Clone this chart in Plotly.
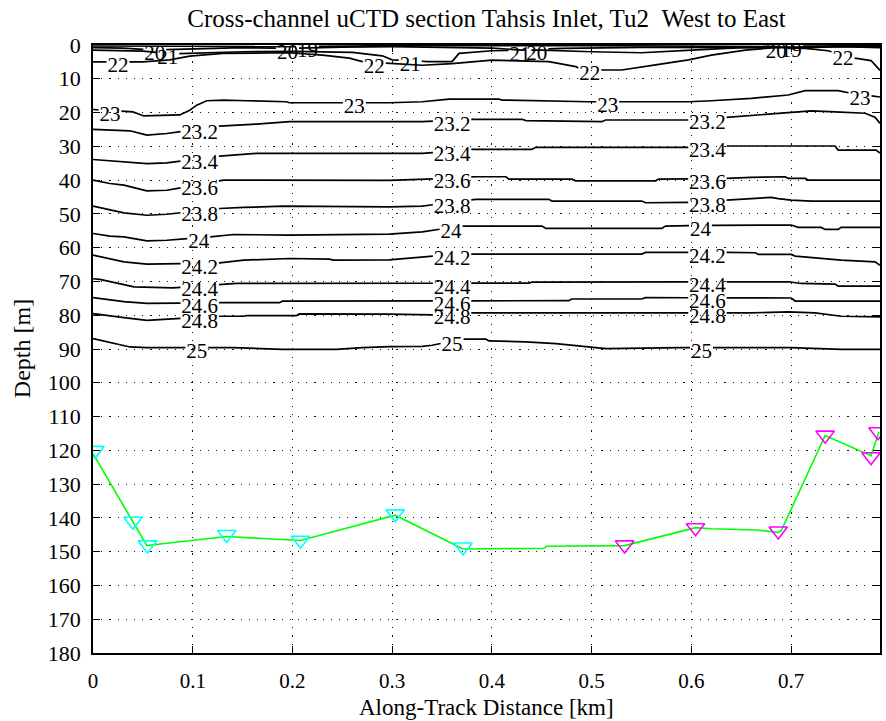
import numpy as np
import plotly.graph_objects as go

# ---- isopycnal depths (sigma-t contours), depth in m vs along-track km ----
x_190 = [0.000, 0.100, 0.200, 0.250, 0.300, 0.500, 0.600, 0.680, 0.720, 0.789]
z_190 = [0.3, 0.4, 0.5, 0.3, 0.2, 0.2, 0.3, 0.5, 0.3, 0.2]

x_200 = [0.000, 0.030, 0.060, 0.100, 0.150, 0.200, 0.250, 0.300, 0.400, 0.430, 0.470, 0.550, 0.650, 0.700, 0.750, 0.789]
z_200 = [0.8, 0.9, 1.5, 1.2, 0.8, 1.0, 0.6, 0.5, 0.9, 1.5, 1.0, 0.7, 0.6, 1.0, 0.4, 0.5]

x_210 = [0.000, 0.050, 0.080, 0.150, 0.200, 0.260, 0.290, 0.300, 0.336, 0.360, 0.364, 0.367, 0.400, 0.450, 0.500, 0.550, 0.600, 0.650, 0.700, 0.750, 0.789]
z_210 = [1.5, 1.8, 2.6, 2.0, 1.9, 2.2, 3.2, 4.4, 4.9, 4.9, 3.5, 2.5, 1.7, 1.5, 2.0, 2.3, 1.5, 0.8, 0.6, 0.5, 0.8]

x_220 = [0.000, 0.050, 0.077, 0.097, 0.130, 0.197, 0.230, 0.257, 0.270, 0.300, 0.330, 0.360, 0.400, 0.457, 0.484, 0.490, 0.530, 0.564, 0.597, 0.620, 0.654, 0.687, 0.714, 0.737, 0.764, 0.780, 0.789]
z_220 = [5.0, 5.0, 4.4, 3.3, 2.5, 2.3, 3.0, 3.9, 4.9, 5.5, 6.0, 5.5, 4.5, 4.9, 6.4, 7.4, 7.4, 5.9, 4.4, 3.0, 1.5, 0.7, 1.0, 1.7, 3.9, 4.6, 7.5]

x_230 = [0.000, 0.040, 0.051, 0.087, 0.097, 0.104, 0.114, 0.131, 0.154, 0.194, 0.197, 0.297, 0.330, 0.357, 0.407, 0.410, 0.497, 0.597, 0.620, 0.660, 0.697, 0.714, 0.747, 0.760, 0.789]
z_230 = [19.1, 19.8, 21.0, 20.7, 19.3, 17.8, 16.5, 16.3, 16.5, 16.8, 17.1, 17.1, 16.8, 16.0, 16.0, 16.3, 16.8, 16.8, 16.5, 15.8, 14.8, 13.5, 13.5, 14.3, 15.4]

x_232 = [0.000, 0.037, 0.054, 0.074, 0.127, 0.164, 0.197, 0.330, 0.382, 0.430, 0.434, 0.510, 0.514, 0.600, 0.637, 0.660, 0.697, 0.720, 0.744, 0.774, 0.784, 0.789]
z_232 = [25.0, 25.4, 26.7, 26.2, 24.0, 23.4, 22.7, 22.7, 22.0, 22.0, 22.4, 22.7, 22.2, 22.2, 21.4, 21.0, 20.2, 19.5, 19.8, 20.2, 21.4, 23.2]

x_234 = [0.000, 0.017, 0.054, 0.074, 0.127, 0.164, 0.330, 0.380, 0.440, 0.444, 0.600, 0.637, 0.744, 0.747, 0.785, 0.789]
z_234 = [33.9, 34.3, 35.1, 34.9, 32.9, 32.1, 32.1, 30.9, 30.9, 30.3, 30.3, 29.9, 29.9, 31.1, 31.1, 32.0]

x_236 = [0.000, 0.017, 0.031, 0.054, 0.074, 0.131, 0.297, 0.330, 0.384, 0.414, 0.417, 0.480, 0.484, 0.564, 0.567, 0.637, 0.660, 0.694, 0.697, 0.714, 0.717, 0.789]
z_236 = [40.0, 41.0, 41.5, 43.2, 43.0, 40.0, 40.1, 39.8, 39.0, 39.0, 39.7, 39.7, 40.2, 40.2, 39.7, 39.5, 39.2, 39.0, 39.5, 39.5, 40.0, 40.0]

x_238 = [0.000, 0.017, 0.031, 0.054, 0.074, 0.127, 0.151, 0.191, 0.297, 0.330, 0.384, 0.457, 0.460, 0.550, 0.554, 0.600, 0.637, 0.654, 0.680, 0.687, 0.700, 0.720, 0.789]
z_238 = [47.7, 48.9, 49.7, 50.4, 50.1, 48.4, 48.1, 47.7, 47.9, 47.7, 45.7, 45.7, 46.2, 46.2, 46.7, 46.6, 45.9, 45.7, 45.1, 45.5, 45.9, 46.2, 46.2]

x_240 = [0.000, 0.017, 0.031, 0.054, 0.074, 0.117, 0.141, 0.197, 0.297, 0.330, 0.370, 0.450, 0.454, 0.570, 0.574, 0.620, 0.700, 0.707, 0.730, 0.734, 0.747, 0.750, 0.789]
z_240 = [55.8, 56.6, 56.8, 58.0, 57.8, 56.8, 56.1, 56.3, 56.0, 55.3, 53.6, 53.6, 54.3, 54.3, 53.6, 53.4, 53.3, 54.0, 54.0, 54.6, 54.6, 54.0, 54.0]

x_242 = [0.000, 0.031, 0.054, 0.087, 0.127, 0.151, 0.197, 0.237, 0.241, 0.297, 0.330, 0.380, 0.550, 0.554, 0.637, 0.664, 0.667, 0.700, 0.704, 0.727, 0.750, 0.784, 0.789]
z_242 = [62.2, 64.2, 64.9, 64.7, 64.5, 63.7, 63.2, 63.4, 63.7, 63.6, 62.7, 61.9, 61.9, 61.4, 61.4, 61.5, 62.0, 62.0, 62.5, 63.2, 63.7, 64.2, 65.2]

x_244 = [0.000, 0.007, 0.041, 0.080, 0.127, 0.144, 0.437, 0.440, 0.697, 0.710, 0.744, 0.747, 0.789]
z_244 = [69.2, 69.4, 71.6, 71.9, 70.9, 70.6, 70.5, 70.2, 70.1, 70.6, 70.8, 71.4, 71.4]

x_246 = [0.000, 0.014, 0.031, 0.054, 0.127, 0.187, 0.190, 0.477, 0.480, 0.550, 0.554, 0.700, 0.704, 0.789]
z_246 = [74.8, 75.3, 76.0, 76.5, 76.3, 76.3, 75.8, 75.7, 75.2, 75.2, 74.8, 74.9, 75.8, 75.8]

x_248 = [0.000, 0.011, 0.031, 0.054, 0.127, 0.151, 0.154, 0.204, 0.207, 0.297, 0.340, 0.380, 0.590, 0.660, 0.697, 0.724, 0.750, 0.789]
z_248 = [79.5, 80.0, 80.7, 81.5, 80.3, 80.3, 80.1, 80.1, 79.6, 79.7, 79.9, 79.3, 79.3, 79.3, 79.0, 79.3, 80.3, 80.5]

x_250 = [0.000, 0.037, 0.054, 0.140, 0.190, 0.244, 0.270, 0.297, 0.330, 0.340, 0.369, 0.394, 0.397, 0.434, 0.464, 0.494, 0.514, 0.590, 0.700, 0.750, 0.789]
z_250 = [86.9, 89.4, 89.6, 89.6, 90.1, 90.1, 89.6, 89.3, 89.2, 88.9, 87.1, 87.1, 87.6, 87.9, 88.4, 89.2, 89.9, 89.6, 89.6, 90.1, 90.1]

# contour label positions (along-track km) for each level
lab_190 = [0.215, 0.700]
lab_200 = [0.062, 0.195, 0.445, 0.685]
lab_210 = [0.075, 0.318, 0.428]
lab_220 = [0.025, 0.282, 0.498, 0.752]
lab_230 = [0.017, 0.262, 0.516, 0.769]
lab_mid = [0.107, 0.360, 0.616]

levels = [
    ("19", x_190, z_190, lab_190),
    ("20", x_200, z_200, lab_200),
    ("21", x_210, z_210, lab_210),
    ("22", x_220, z_220, lab_220),
    ("23", x_230, z_230, lab_230),
    ("23.2", x_232, z_232, lab_mid),
    ("23.4", x_234, z_234, lab_mid),
    ("23.6", x_236, z_236, lab_mid),
    ("23.8", x_238, z_238, lab_mid),
    ("24", x_240, z_240, [0.106, 0.359, 0.609]),
    ("24.2", x_242, z_242, lab_mid),
    ("24.4", x_244, z_244, lab_mid),
    ("24.6", x_246, z_246, lab_mid),
    ("24.8", x_248, z_248, lab_mid),
    ("25", x_250, z_250, [0.104, 0.360, 0.610]),
]

# ---- bottom profile and uCTD cast stations ----
bottom_x = [0.000, 0.040, 0.054, 0.063, 0.134, 0.208, 0.303, 0.371, 0.452, 0.455, 0.533, 0.604, 0.620, 0.665, 0.687, 0.690, 0.734, 0.780, 0.788]
bottom_z = [121.0, 141.0, 148.2, 147.9, 145.5, 146.7, 139.2, 149.2, 149.0, 148.4, 148.2, 142.9, 143.2, 143.6, 144.3, 143.8, 115.6, 121.6, 114.5]

casts_a_x = [0.002, 0.040, 0.0546, 0.134, 0.208, 0.303, 0.371]
casts_a_z = [120.0, 141.0, 148.0, 144.9, 146.6, 138.8, 148.6]
casts_b_x = [0.533, 0.604, 0.687, 0.734, 0.780, 0.787]
casts_b_z = [148.0, 142.9, 143.9, 115.5, 121.9, 114.5]

x_ticks = [0, 0.1, 0.2, 0.3, 0.4, 0.5, 0.6, 0.7]
y_ticks = list(range(0, 181, 10))

FONT = "Liberation Serif, Times New Roman, serif"
LABEL_SIZE = 21


def label_halfwidth(text):
    digits = sum(c.isdigit() for c in text)
    dots = text.count(".")
    return (0.5 * (10.5 * digits + 5.0 * dots) + 1.0) / 1000.0


def broken_line(xs, zs, label_xs, hw):
    """Return x/z lists with gaps where inline labels sit."""
    xs = np.asarray(xs, float)
    zs = np.asarray(zs, float)
    gaps = [(lx - hw, lx + hw) for lx in label_xs]
    pts = set(xs.tolist())
    for a, b in gaps:
        for e in (a, b):
            if xs[0] <= e <= xs[-1]:
                pts.add(e)
    pts = np.array(sorted(pts))

    def inside(v):
        return any(a < v < b for a, b in gaps)

    keep = [p for p in pts if not inside(p)]
    out_x, out_z = [], []
    for i, p in enumerate(keep):
        if i > 0 and inside(0.5 * (keep[i - 1] + p)):
            out_x.append(None)
            out_z.append(None)
        out_x.append(float(p))
        out_z.append(float(np.interp(p, xs, zs)))
    return out_x, out_z


fig = go.Figure()

lab_x, lab_y, lab_t = [], [], []
for text, xs, zs, lxs in levels:
    hw = label_halfwidth(text)
    bx, bz = broken_line(xs, zs, lxs, hw)
    fig.add_trace(go.Scatter(x=bx, y=bz, mode="lines",
                             line=dict(color="black", width=1.7),
                             hoverinfo="skip", showlegend=False))
    for lx in lxs:
        lab_x.append(lx)
        lab_y.append(float(np.interp(lx, xs, zs)) + 1.5)
        lab_t.append(text)

fig.add_trace(go.Scatter(x=lab_x, y=lab_y, text=lab_t, mode="text",
                         textposition="middle center",
                         textfont=dict(family=FONT, size=LABEL_SIZE, color="black"),
                         hoverinfo="skip", showlegend=False))

fig.add_trace(go.Scatter(x=bottom_x, y=bottom_z, mode="lines",
                         line=dict(color="#00ff00", width=1.6),
                         showlegend=False))
fig.add_trace(go.Scatter(x=casts_a_x, y=casts_a_z, mode="markers",
                         marker=dict(symbol="triangle-down-open", size=16,
                                     color="#00ffff", line=dict(width=1.6)),
                         showlegend=False))
fig.add_trace(go.Scatter(x=casts_b_x, y=casts_b_z, mode="markers",
                         marker=dict(symbol="triangle-down-open", size=16,
                                     color="#ff00ff", line=dict(width=1.6)),
                         showlegend=False))

W, H = 886, 721
L, R, T, B = 93, 4, 45, 68
plot_h = H - T - B

axis_common = dict(
    showline=True, linecolor="black", linewidth=1.6, mirror="ticks",
    ticks="inside", ticklen=7, tickwidth=1, tickcolor="black",
    showgrid=True, gridcolor="#111111", gridwidth=1, griddash="1.2px,7px",
    zeroline=False,
    tickfont=dict(family=FONT, size=22, color="black"),
)

fig.update_xaxes(range=[0, 0.789], tickvals=x_ticks,
                 ticktext=[f"{v:g}" for v in x_ticks],
                 ticklabelstandoff=8,
                 **{**axis_common, "tickfont": dict(family=FONT, size=21, color="black")})
fig.update_yaxes(range=[180, 0], tickvals=y_ticks,
                 ticktext=[str(v) for v in y_ticks],
                 ticklabelstandoff=6, **axis_common)

fig.update_layout(
    width=W, height=H,
    margin=dict(l=L, r=R, t=T, b=B, pad=0),
    paper_bgcolor="white", plot_bgcolor="white",
    title=dict(text="Cross-channel uCTD section Tahsis Inlet, Tu2 \u00a0West to East",
               x=0.5, xref="paper", xanchor="center",
               y=1 - 18 / H, yref="container", yanchor="middle",
               font=dict(family=FONT, size=25, color="black")),
    annotations=[
        dict(text="Along-Track Distance [km]", x=0.5, xref="paper",
             y=-(707 - (H - B)) / plot_h, yref="paper",
             xanchor="center", yanchor="middle", showarrow=False,
             font=dict(family=FONT, size=23, color="black")),
        dict(text="Depth [m]", x=-(93 - 22) / (W - L - R), xref="paper",
             y=0.5, yref="paper", textangle=-90,
             xanchor="center", yanchor="middle", showarrow=False,
             font=dict(family=FONT, size=24, color="black")),
    ],
)

fig.write_html("out.html")
